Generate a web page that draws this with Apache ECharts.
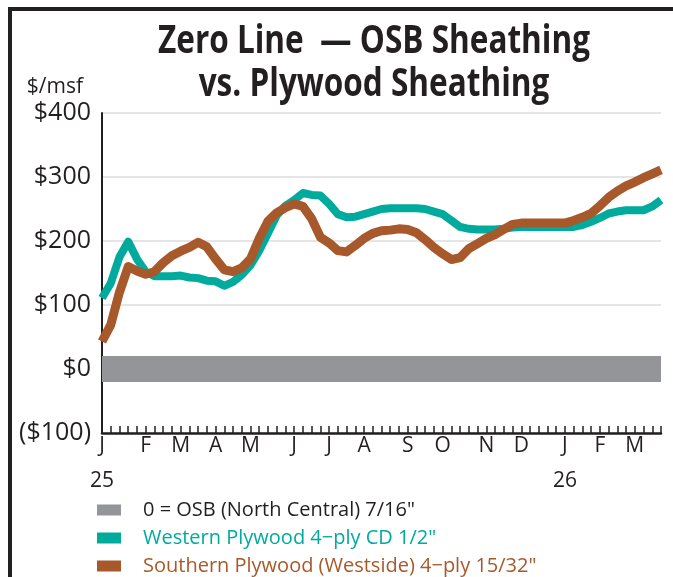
<!DOCTYPE html>
<html>
<head>
<meta charset="utf-8">
<script src="https://cdn.jsdelivr.net/npm/echarts@6/dist/echarts.min.js"></script>
<style>
  html, body { margin: 0; padding: 0; background: #fff; }
  #chart { width: 673px; height: 577px; }
</style>
</head>
<body>
<div id="chart"></div>
<script>
// Weekly sheathing prices, Jan 2025 – Mar 2026, in $/msf relative to OSB
const monthLetters = ['J', 'F', 'M', 'A', 'M', 'J', 'J', 'A', 'S', 'O', 'N', 'D', 'J', 'F', 'M'];
const monthYears   = ['25', '', '', '', '', '', '', '', '', '', '', '', '26', '', ''];
const weeksPerMonth = [5, 4, 4, 4, 5, 4, 4, 5, 4, 5, 4, 5, 4, 4, 4];

const yTicks = [-100, 0, 100, 200, 300, 400];

const osbLevel = 0;

const westernPlywood = [
  111, 134, 175, 199, 172, 152, 145, 145, 145, 146, 143, 142, 138, 137, 130, 136,
  147, 162, 185, 212, 240, 255, 264, 275, 272, 271, 258, 242, 237, 238, 242, 246,
  250, 251, 251, 251, 251, 250, 246, 242, 232, 222, 219, 218, 218, 218, 219, 221,
  222, 222, 222, 222, 222, 222, 222, 225, 230, 236, 243, 246, 248, 248, 248, 254,
  264
];

const southernPlywood = [
  43, 69, 120, 160, 153, 148, 152, 166, 177, 184, 190, 198, 191, 172, 155, 152,
  158, 172, 204, 231, 244, 252, 258, 254, 235, 206, 197, 185, 183, 193, 204, 212,
  216, 217, 219, 218, 213, 202, 190, 180, 171, 174, 188, 196, 204, 210, 218, 226,
  228, 228, 228, 228, 228, 228, 232, 237, 243, 255, 268, 278, 286, 292, 299, 305,
  311
];

const seriesNames = [
  '0 = OSB (North Central) 7/16"',
  'Western Plywood 4\u2212ply CD 1/2"',
  'Southern Plywood (Westside) 4\u2212ply 15/32"'
];

const titleLines = ['Zero Line  \u2014 OSB Sheathing', 'vs. Plywood Sheathing'];

const colors = { osb: '#939598', western: '#00ab9e', southern: '#a8592b', ink: '#231f20' };

// one category per week; the first week of each month carries the month letter
const weeks = [];
const weekLabel = {};
monthLetters.forEach((m, mi) => {
  for (let w = 0; w < weeksPerMonth[mi]; w++) {
    const key = 'm' + mi + 'w' + w;
    weeks.push(key);
    if (w === 0) {
      weekLabel[key] = monthYears[mi] ? '{m|' + m + '}\n{y|' + monthYears[mi] + '}' : '{m|' + m + '}';
    }
  }
});

const font = "'Open Sans', 'Noto Sans', sans-serif";

// Title is set in a bold face squeezed horizontally into a condensed headline
const titleFontSize = 39;
const titleFamily = "'Open Sans', 'Noto Sans', sans-serif";
const titleWidth = 432;
const measureCtx = document.createElement('canvas').getContext('2d');
measureCtx.font = 'bold ' + titleFontSize + 'px ' + titleFamily;
const titleScale = titleWidth / measureCtx.measureText(titleLines[0]).width;

function titleText(text, y) {
  return {
    type: 'text',
    x: 374,
    y: y,
    scaleX: titleScale,
    style: {
      text: text,
      x: 0,
      y: 0,
      align: 'center',
      verticalAlign: 'middle',
      fontFamily: titleFamily,
      fontWeight: 'bold',
      fontSize: titleFontSize,
      fill: colors.ink
    }
  };
}

const chart = echarts.init(document.getElementById('chart'), null, { renderer: 'canvas' });

chart.setOption({
  animation: false,
  backgroundColor: '#ffffff',
  graphic: [
    { type: 'line', shape: { x1: 10, y1: 9, x2: 673, y2: 9 }, style: { stroke: colors.ink, lineWidth: 4 } },
    { type: 'line', shape: { x1: 10, y1: 7, x2: 10, y2: 577 }, style: { stroke: colors.ink, lineWidth: 4 } },
    titleText(titleLines[0], 42),
    titleText(titleLines[1], 85)
  ],
  legend: {
    orient: 'vertical',
    left: 97,
    top: 500,
    padding: 0,
    itemWidth: 24,
    itemHeight: 11,
    itemGap: 8,
    icon: 'rect',
    textStyle: { fontFamily: font, fontSize: 20, lineHeight: 20, padding: [0, 0, 0, 17] },
    data: [
      { name: seriesNames[0], itemStyle: { color: colors.osb }, textStyle: { color: colors.ink } },
      { name: seriesNames[1], itemStyle: { color: colors.western }, textStyle: { color: colors.western } },
      { name: seriesNames[2], itemStyle: { color: colors.southern }, textStyle: { color: colors.southern } }
    ]
  },
  grid: { left: 102, right: 12, top: 113, bottom: 144, containLabel: false },
  xAxis: {
    type: 'category',
    data: weeks,
    boundaryGap: false,
    axisLine: { show: true, onZero: false, lineStyle: { color: colors.ink, width: 2.5 } },
    axisTick: { show: true, interval: 0, inside: true, length: 7, lineStyle: { color: colors.ink, width: 1.5 } },
    axisLabel: {
      interval: 0,
      margin: 1,
      formatter: (v) => weekLabel[v] || '',
      rich: {
        m: { fontFamily: font, fontSize: 21, lineHeight: 24, color: colors.ink },
        y: { fontFamily: font, fontSize: 21, lineHeight: 46, color: colors.ink }
      }
    },
    splitLine: { show: false }
  },
  yAxis: {
    type: 'value',
    min: yTicks[0],
    max: yTicks[yTicks.length - 1],
    interval: 100,
    name: '$/msf',
    nameLocation: 'end',
    nameGap: 26,
    nameTextStyle: { fontFamily: font, fontSize: 21, color: colors.ink, align: 'right', verticalAlign: 'middle', padding: [0, 19, 0, 0] },
    axisLine: { show: true, lineStyle: { color: colors.ink, width: 2 } },
    axisTick: { show: false },
    axisLabel: {
      margin: 11,
      fontFamily: font,
      fontSize: 25,
      color: colors.ink,
      padding: [6, 0, 0, 0],
      formatter: (v) => (v < 0 ? '($' + Math.abs(v) + ')' : '$' + v)
    },
    splitLine: { show: true, lineStyle: { color: '#e4e5e7', width: 2 } }
  },
  series: [
    {
      name: seriesNames[0],
      type: 'line',
      data: weeks.map(() => osbLevel),
      showSymbol: false,
      symbol: 'none',
      z: 1,
      itemStyle: { color: colors.osb },
      lineStyle: { color: colors.osb, width: 26, cap: 'butt' }
    },
    {
      name: seriesNames[1],
      type: 'line',
      data: westernPlywood,
      showSymbol: false,
      symbol: 'none',
      z: 2,
      itemStyle: { color: colors.western },
      lineStyle: { color: colors.western, width: 8, join: 'round' }
    },
    {
      name: seriesNames[2],
      type: 'line',
      data: southernPlywood,
      showSymbol: false,
      symbol: 'none',
      z: 3,
      itemStyle: { color: colors.southern },
      lineStyle: { color: colors.southern, width: 9, join: 'round' }
    }
  ]
});
</script>
</body>
</html>
